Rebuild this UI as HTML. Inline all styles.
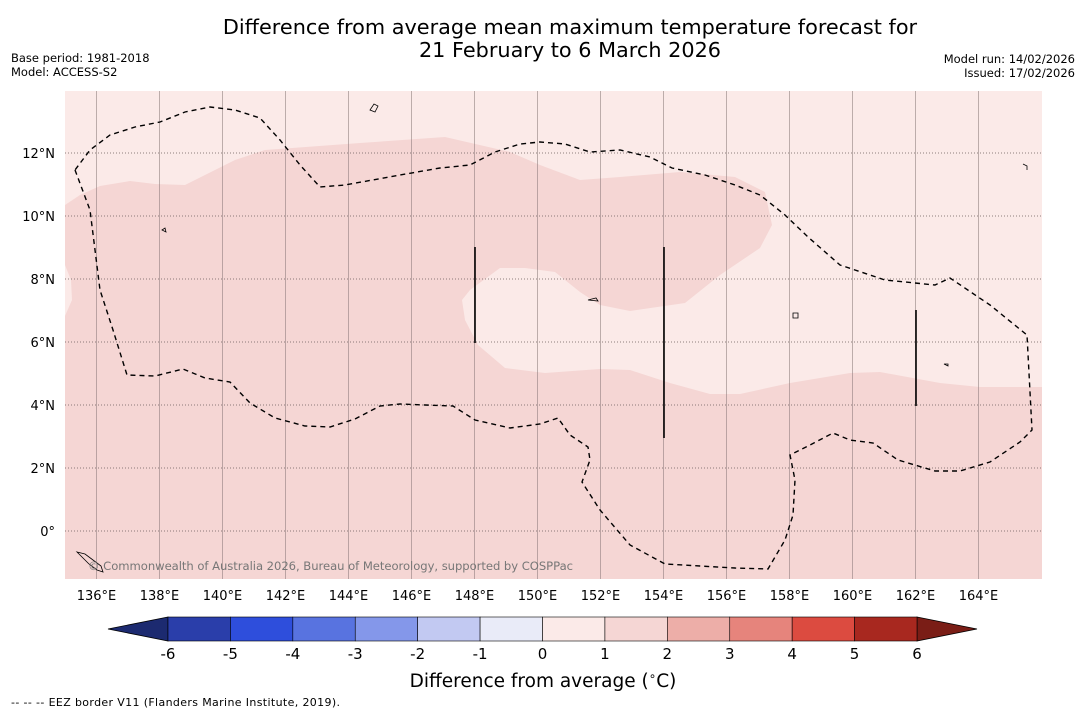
<!DOCTYPE html>
<html><head><meta charset="utf-8"><style>
body{margin:0;background:#fff;width:1085px;height:713px;overflow:hidden;font-family:"Liberation Sans","DejaVu Sans",sans-serif}
</style></head><body>
<svg width="1085" height="713" xmlns="http://www.w3.org/2000/svg" font-family="DejaVu Sans, Liberation Sans, sans-serif">
<text x="570" y="34" font-size="20.8" text-anchor="middle">Difference from average mean maximum temperature forecast for</text>
<text x="570" y="57" font-size="20.8" text-anchor="middle">21 February to 6 March 2026</text>
<text x="11" y="62" font-size="11.5">Base period: 1981-2018</text>
<text x="11" y="76" font-size="11.5">Model: ACCESS-S2</text>
<text x="1075" y="63" font-size="11.5" text-anchor="end">Model run: 14/02/2026</text>
<text x="1075" y="77" font-size="11.5" text-anchor="end">Issued: 17/02/2026</text>
<g id="map">
<rect x="65" y="91" width="977" height="488" fill="#f5d6d4"/>
<path d="M65,91 L1042,91 L1042,387 L980,387 L940,383 L880,372 L850,373 L790,383 L740,394 L710,394 L670,383 L630,370 L600,369 L545,373 L505,368 L478,345 L465,320 L462,300 L470,290 L500,268 L525,268 L555,272 L580,292 L600,305 L630,311 L685,303 L720,275 L760,248 L772,225 L765,192 L735,177 L680,172 L620,177 L580,180 L540,165 L510,152 L445,137 L360,143 L265,150 L235,160 L205,175 L185,185 L155,184 L130,181 L100,186 L80,195 L65,205 Z" fill="#fbeae8"/>
<path d="M65,265 L71,280 L72,300 L65,316 Z" fill="#fbeae8"/>
<g id="grid"></g>
<path d="M75,170 L90,210 L95,250 L100,290 L113,330 L127,375 L155,376 L183,369 L205,378 L230,382 L250,403 L275,418 L305,426 L330,427 L355,419 L380,406 L400,404 L425,405 L453,406 L475,420 L510,428 L540,424 L558,418 L570,435 L588,447 L590,460 L582,482 L600,510 L630,545 L665,564 L700,566 L735,568 L768,569 L785,540 L793,515 L795,480 L790,455 L810,445 L833,433 L850,440 L873,443 L898,460 L935,471 L960,471 L990,462 L1020,442 L1032,430 L1027,335 L990,305 L950,278 L935,285 L885,280 L840,265 L808,237 L785,215 L760,195 L735,185 L705,175 L672,168 L650,157 L620,150 L590,152 L565,144 L540,142 L520,144 L495,152 L470,165 L440,168 L400,175 L345,185 L320,187 L300,165 L280,140 L260,118 L235,110 L210,107 L185,112 L160,122 L135,127 L110,135 L90,150 Z" fill="none" stroke="#000" stroke-width="1.4" stroke-dasharray="5,4"/>
<line x1="475" y1="247" x2="475" y2="343" stroke="#000" stroke-width="1.6"/>
<line x1="664" y1="247" x2="664" y2="438" stroke="#000" stroke-width="1.6"/>
<line x1="916" y1="310" x2="916" y2="406" stroke="#000" stroke-width="1.6"/>
<g fill="none" stroke="#000" stroke-width="0.8">
<path d="M370,110 l4,-6 l4,2 l-3,6 z"/><path d="M162,230 l3,-2 l1,4 z"/><path d="M588,300 l8,-2 l2,3 z"/><path d="M793,313 l5,0 l0,5 l-5,0 z"/>
<path d="M77,552 l8,2 l8,6 l8,6 l2,6 l-6,-2 l-8,-6 z"/><path d="M944,364 l4,0 l0,2 z"/><path d="M1023,164 l4,2 l0,4"/>
</g>
<text x="88" y="570" font-size="11.6" fill="#777" textLength="485">© Commonwealth of Australia 2026, Bureau of Meteorology, supported by COSPPac</text>
</g>
<g id="ticks"></g>
<g id="cbar"></g>
<text x="543" y="687" font-size="18.5" text-anchor="middle">Difference from average (<tspan font-size="12" dy="-7">∘</tspan><tspan dy="7">C)</tspan></text>
<text x="11" y="706" font-size="11" textLength="329">--  --  -- EEZ border V11 (Flanders Marine Institute, 2019).</text>
</svg>
<script>
const lonTicks=[136,138,140,142,144,146,148,150,152,154,156,158,160,162,164];
const latTicks=[0,2,4,6,8,10,12];
const cbarLevels=[-6,-5,-4,-3,-2,-1,0,1,2,3,4,5,6];
const cbarColors=["#2a3eaa","#2e4edc","#5873e0","#8497ea","#c2c9f2","#e9ebf8","#fbeae8","#f5d6d4","#edaea8","#e6847c","#dc4b40","#a8281f"];
const ns="http://www.w3.org/2000/svg";
const xOf=lon=>65+(lon-135)*31.5;
const yOf=lat=>531-lat*31.5;
const grid=document.getElementById('grid'),ticks=document.getElementById('ticks'),cb=document.getElementById('cbar');
function mk(tag,attrs,parent){const e=document.createElementNS(ns,tag);for(const k in attrs)e.setAttribute(k,attrs[k]);parent.appendChild(e);return e;}
lonTicks.forEach(l=>{
 const g=mk('line',{x1:xOf(l),x2:xOf(l),y1:91,y2:579,stroke:'#8a7b7b','stroke-width':0.8,'stroke-opacity':0.7},grid);
 
 
 const t=mk('text',{x:xOf(l),y:600,'font-size':13,'text-anchor':'middle'},ticks);
 t.textContent=l+'°E';
 
 
});
latTicks.forEach(l=>{
 const g=mk('line',{x1:65,x2:1042,y1:yOf(l),y2:yOf(l),stroke:'#6a5a5a','stroke-width':0.8,'stroke-dasharray':'1,2'},grid);
 
 
 const t=mk('text',{x:55,y:yOf(l)+5,'font-size':13,'text-anchor':'end'},ticks);
 t.textContent=l===0?'0°':l+'°N';
 
 
});
const cx0=168,cx1=917,cy=617,ch=24;
const cxOf=v=>cx0+(v-cbarLevels[0])/(cbarLevels[cbarLevels.length-1]-cbarLevels[0])*(cx1-cx0);
const lt=mk('polygon',{points:`${cx0},${cy} 108,${cy+ch/2} ${cx0},${cy+ch}`,fill:'#1c2a70',stroke:'#000','stroke-width':0.8},cb);


const rt=mk('polygon',{points:`${cx1},${cy} 977,${cy+ch/2} ${cx1},${cy+ch}`,fill:'#7a1d16',stroke:'#000','stroke-width':0.8},cb);


cbarColors.forEach((c,i)=>{
 const r=mk('rect',{x:cxOf(cbarLevels[i]),y:cy,width:cxOf(cbarLevels[i+1])-cxOf(cbarLevels[i]),height:ch,fill:c,stroke:'#000','stroke-width':0.6},cb);
 
 
});
cbarLevels.forEach(v=>{
 const t=mk('text',{x:cxOf(v),y:659,'font-size':15,'text-anchor':'middle'},cb);
 t.textContent=v;
 
 
});
</script>
</body></html>
